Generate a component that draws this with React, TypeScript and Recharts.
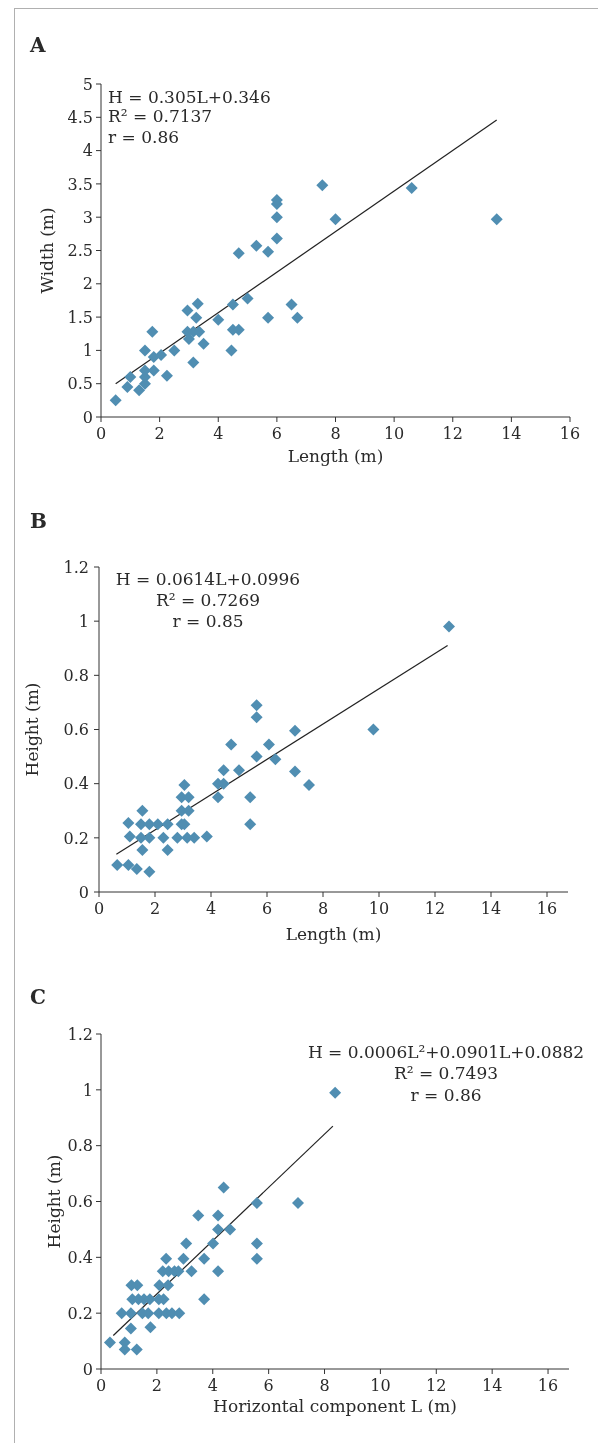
import React from 'react';
import { ScatterChart, Scatter, XAxis, YAxis, ReferenceLine, Label } from 'recharts';

// Panel A: Length vs Width
const lengthA = [0.5, 0.9, 1.0, 1.3, 1.5, 1.5, 1.5, 1.5, 1.8, 1.8, 1.75, 2.05, 2.25, 2.5, 2.95, 2.95, 3.0, 3.15, 3.3, 3.25, 3.15, 3.35, 3.5, 4.0, 4.5, 4.5, 4.7, 4.45, 4.7, 5.0, 5.3, 5.7, 5.7, 6.0, 6.0, 6.0, 6.0, 6.5, 6.7, 7.55, 8.0, 10.6, 13.5];
const widthA = [0.25, 0.45, 0.6, 0.4, 0.5, 0.6, 0.7, 1.0, 0.7, 0.9, 1.28, 0.93, 0.62, 1.0, 1.6, 1.28, 1.17, 0.82, 1.7, 1.49, 1.28, 1.28, 1.1, 1.46, 1.69, 1.31, 1.31, 1.0, 2.46, 1.78, 2.57, 2.48, 1.49, 2.68, 3.0, 3.2, 3.26, 1.69, 1.49, 3.48, 2.97, 3.44, 2.97];
const trendAx = [0.5, 13.5];
const trendAy = [0.5, 4.46];

// Panel B: Length vs Height
const lengthB = [0.65, 1.05, 1.35, 1.8, 1.05, 1.1, 1.55, 1.5, 1.5, 1.55, 1.8, 1.8, 2.1, 2.3, 2.45, 2.45, 2.8, 2.95, 3.05, 2.95, 3.2, 2.95, 3.2, 3.05, 3.15, 3.4, 3.85, 4.25, 4.25, 4.45, 4.45, 4.72, 5.0, 5.4, 5.4, 5.63, 5.63, 5.63, 6.07, 6.3, 7.0, 7.0, 7.5, 9.8, 12.5];
const heightB = [0.1, 0.1, 0.085, 0.075, 0.255, 0.205, 0.3, 0.25, 0.2, 0.155, 0.25, 0.2, 0.25, 0.2, 0.25, 0.155, 0.2, 0.25, 0.25, 0.3, 0.3, 0.35, 0.35, 0.395, 0.2, 0.2, 0.205, 0.35, 0.4, 0.4, 0.45, 0.545, 0.45, 0.35, 0.25, 0.69, 0.645, 0.5, 0.545, 0.49, 0.595, 0.445, 0.395, 0.6, 0.98];
const trendBx = [0.62, 12.45];
const trendBy = [0.139, 0.91];

// Panel C: Horizontal component vs Height
const horizC = [0.32, 0.74, 0.85, 0.85, 1.07, 1.07, 1.28, 1.09, 1.3, 1.12, 1.34, 1.54, 1.75, 1.48, 1.69, 1.77, 2.07, 2.24, 2.07, 2.34, 2.54, 2.8, 2.09, 2.4, 2.21, 2.42, 2.63, 2.77, 2.33, 2.95, 3.05, 3.24, 3.48, 3.69, 3.69, 4.01, 4.19, 4.19, 4.19, 4.39, 4.62, 5.58, 5.58, 5.58, 7.05, 8.38];
const heightC = [0.095, 0.2, 0.095, 0.07, 0.2, 0.145, 0.07, 0.3, 0.3, 0.25, 0.25, 0.25, 0.25, 0.2, 0.2, 0.15, 0.25, 0.25, 0.2, 0.2, 0.2, 0.2, 0.3, 0.3, 0.35, 0.35, 0.35, 0.35, 0.395, 0.395, 0.45, 0.35, 0.55, 0.395, 0.25, 0.45, 0.35, 0.5, 0.55, 0.65, 0.5, 0.595, 0.45, 0.395, 0.595, 0.99];
const trendCx = [0.44, 8.3];
const trendCy = [0.12, 0.87];

const xTicks = [0, 2, 4, 6, 8, 10, 12, 14, 16];
const yTicksA = [0, 0.5, 1, 1.5, 2, 2.5, 3, 3.5, 4, 4.5, 5];
const yTicksBC = [0, 0.2, 0.4, 0.6, 0.8, 1, 1.2];

const zip = (xs: number[], ys: number[]) => xs.map((x, i) => ({ x, y: ys[i] }));

const FONT = '"DejaVu Serif", serif';
const TEXT = '#2a2a2a';
const AXIS = '#333';
const BLUE = '#508eb2';

const Diamond = (props: any) => {
  const { cx, cy } = props;
  if (cx == null || cy == null) return null;
  const r = 6;
  return <path d={`M${cx},${cy - r}L${cx + r},${cy}L${cx},${cy + r}L${cx - r},${cy}Z`} fill={BLUE} />;
};

const tickStyle = { fill: TEXT, fontSize: 16, fontFamily: FONT };

const xTitle = (text: string, off: number) => (props: any) => {
  const vb = props.viewBox || {};
  const cx = vb.x + vb.width / 2;
  const cy = vb.y + off;
  return (
    <text x={cx} y={cy} textAnchor="middle" dominantBaseline="central" fill={TEXT} fontSize={17} fontFamily={FONT}>
      {text}
    </text>
  );
};

const yTitle = (text: string, cx: number) => (props: any) => {
  const vb = props.viewBox || {};
  const cy = vb.y + vb.height / 2;
  return (
    <text x={cx} y={cy} transform={`rotate(-90 ${cx} ${cy})`} textAnchor="middle" dominantBaseline="central" fill={TEXT} fontSize={17} fontFamily={FONT}>
      {text}
    </text>
  );
};

type PanelProps = {
  top: number;
  height: number;
  marginTop: number;
  yAxisWidth: number;
  marginRight: number;
  xMax: number;
  yMax: number;
  yTicks: number[];
  data: { x: number; y: number }[];
  trendX: number[];
  trendY: number[];
  xLabel: string;
  xLabelOff: number;
  yLabel: string;
  yLabelX: number;
  yTickMargin: number;
};

const Panel = (p: PanelProps) => (
  <div style={{ position: 'absolute', left: 0, top: p.top }}>
    <ScatterChart width={590} height={p.height + 12} margin={{ top: p.marginTop, right: p.marginRight, bottom: 12, left: 0 }}>
      <XAxis
        type="number"
        dataKey="x"
        domain={[0, p.xMax]}
        ticks={xTicks}
        interval={0}
        allowDataOverflow
        height={50}
        tick={tickStyle}
        tickSize={5}
        tickMargin={6}
        stroke={AXIS}
        axisLine={{ stroke: AXIS }}
        tickLine={{ stroke: AXIS }}
      >
        <Label content={xTitle(p.xLabel, p.xLabelOff)} />
      </XAxis>
      <YAxis
        type="number"
        dataKey="y"
        domain={[0, p.yMax]}
        ticks={p.yTicks}
        interval={0}
        allowDataOverflow
        width={p.yAxisWidth}
        tick={tickStyle}
        tickSize={5}
        tickMargin={p.yTickMargin}
        stroke={AXIS}
        axisLine={{ stroke: AXIS }}
        tickLine={{ stroke: AXIS }}
      >
        <Label content={yTitle(p.yLabel, p.yLabelX)} />
      </YAxis>
      <ReferenceLine
        segment={[
          { x: p.trendX[0], y: p.trendY[0] },
          { x: p.trendX[1], y: p.trendY[1] },
        ]}
        stroke="#222"
        strokeWidth={1.2}
        ifOverflow="visible"
      />
      <Scatter data={p.data} shape={Diamond} isAnimationActive={false} />
    </ScatterChart>
  </div>
);

const letterStyle: React.CSSProperties = {
  position: 'absolute',
  fontFamily: FONT,
  fontWeight: 'bold',
  fontSize: 20,
  color: TEXT,
  lineHeight: '20px',
};

const eqStyle: React.CSSProperties = {
  position: 'absolute',
  fontFamily: FONT,
  fontSize: 17,
  color: TEXT,
  lineHeight: '20px',
  whiteSpace: 'nowrap',
};

const EqLine = ({ text, y, left, center }: { text: string; y: number; left?: number; center?: number }) =>
  center != null ? (
    <div style={{ ...eqStyle, top: y - 10, left: center - 200, width: 400, textAlign: 'center' }}>{text}</div>
  ) : (
    <div style={{ ...eqStyle, top: y - 10, left }}>{text}</div>
  );

export default function App() {
  return (
    <div style={{ position: 'relative', width: 590, height: 1420 }}>
      <div
        style={{
          position: 'fixed',
          left: 14,
          top: 8,
          width: 584,
          height: 1435,
          borderTop: '1px solid #b0b0b0',
          borderLeft: '1px solid #b0b0b0',
          boxSizing: 'border-box',
        }}
      />
      <div style={{ ...letterStyle, left: 22, top: 27 }}>A</div>
      <div style={{ ...letterStyle, left: 22, top: 503 }}>B</div>
      <div style={{ ...letterStyle, left: 22, top: 979 }}>C</div>

      <Panel
        top={52}
        height={407}
        marginTop={24}
        yAxisWidth={93}
        marginRight={28}
        xMax={16}
        yMax={5}
        yTicks={yTicksA}
        data={zip(lengthA, widthA)}
        trendX={trendAx}
        trendY={trendAy}
        xLabel="Length (m)"
        xLabelOff={39}
        yLabel="Width (m)"
        yLabelX={39}
        yTickMargin={3}
      />
      <Panel
        top={532}
        height={402}
        marginTop={27}
        yAxisWidth={91}
        marginRight={30}
        xMax={16.75}
        yMax={1.2}
        yTicks={yTicksBC}
        data={zip(lengthB, heightB)}
        trendX={trendBx}
        trendY={trendBy}
        xLabel="Length (m)"
        xLabelOff={42}
        yLabel="Height (m)"
        yLabelX={24}
        yTickMargin={5}
      />
      <Panel
        top={1002}
        height={409}
        marginTop={24}
        yAxisWidth={93}
        marginRight={29}
        xMax={16.75}
        yMax={1.2}
        yTicks={yTicksBC}
        data={zip(horizC, heightC)}
        trendX={trendCx}
        trendY={trendCy}
        xLabel="Horizontal component L (m)"
        xLabelOff={37}
        yLabel="Height (m)"
        yLabelX={46}
        yTickMargin={3}
      />

      <EqLine text="H = 0.305L+0.346" y={89} left={100} />
      <EqLine text="R² = 0.7137" y={108} left={100} />
      <EqLine text="r = 0.86" y={129} left={100} />

      <EqLine text="H = 0.0614L+0.0996" y={571} center={200} />
      <EqLine text="R² = 0.7269" y={592} center={200} />
      <EqLine text="r = 0.85" y={613} center={200} />

      <EqLine text="H = 0.0006L²+0.0901L+0.0882" y={1044} center={438} />
      <EqLine text="R² = 0.7493" y={1065} center={438} />
      <EqLine text="r = 0.86" y={1087} center={438} />
    </div>
  );
}
